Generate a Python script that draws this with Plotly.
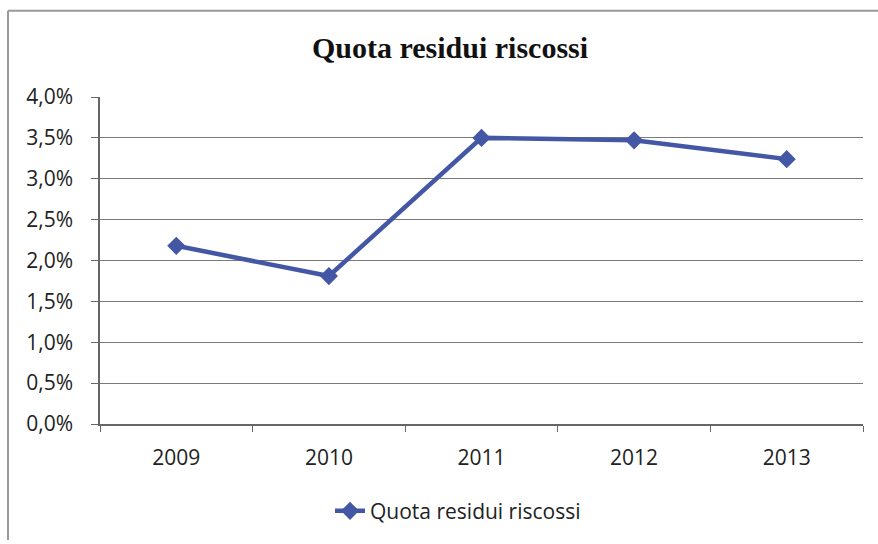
import plotly.graph_objects as go

years = ["2009", "2010", "2011", "2012", "2013"]
quota = [0.0218, 0.0181, 0.0350, 0.0347, 0.0324]
series_name = "Quota residui riscossi"
title_text = "Quota residui riscossi"

W, H = 878, 544
L, R, T, B = 100, 15, 97, 117
pw = W - L - R
ph = H - T - B

def px_x(x):
    return (x - L) / pw

def px_y(y):
    return (H - B - y) / ph

color = "#4457A5"

fig = go.Figure()
fig.add_trace(go.Scatter(
    x=years, y=quota, name=series_name, mode="lines+markers",
    line=dict(color=color, width=4.5),
    marker=dict(symbol="diamond", size=14, color=color),
))

fig.update_layout(
    width=W, height=H,
    margin=dict(l=L, r=R, t=T, b=B),
    paper_bgcolor="white", plot_bgcolor="white",
    separators=",.",
    font=dict(family="Open Sans", color="#222"),
    title=dict(text=title_text, x=(450) / W, xanchor="center", y=1 - 47 / H, yanchor="middle",
               font=dict(family="Liberation Serif", size=30, color="#111", weight="bold")),
    showlegend=True,
    legend=dict(orientation="h", x=px_x(330), xanchor="left", y=px_y(515), yanchor="middle",
                font=dict(size=21, color="#222"), bgcolor="rgba(0,0,0,0)"),
    xaxis=dict(type="category", range=[-0.5, len(years) - 0.5], showgrid=False, showline=True,
               linecolor="#666", linewidth=1.5,
               ticks="outside", tickson="boundaries", ticklen=6, tickcolor="#666",
               ticklabelstandoff=14,
               tickfont=dict(size=21, color="#222")),
    yaxis=dict(range=[0, 0.04], dtick=0.005, tickformat=".1%", showgrid=True, gridcolor="#7a7a7a",
               gridwidth=1.3, showline=True, linecolor="#666", linewidth=1.5, ticks="outside",
               ticklen=7, tickcolor="#666", ticklabelstandoff=14, zeroline=False,
               tickfont=dict(size=21, color="#222")),
    shapes=[
        dict(type="line", xref="paper", yref="paper", x0=px_x(8), x1=px_x(878), y0=px_y(10), y1=px_y(10),
             line=dict(color="#999", width=2)),
        dict(type="line", xref="paper", yref="paper", x0=px_x(8), x1=px_x(8), y0=px_y(10), y1=px_y(544),
             line=dict(color="#999", width=2)),
    ],
)

fig.write_html("out.html", post_script="document.body.style.margin='0';",
               config={"displayModeBar": False})
